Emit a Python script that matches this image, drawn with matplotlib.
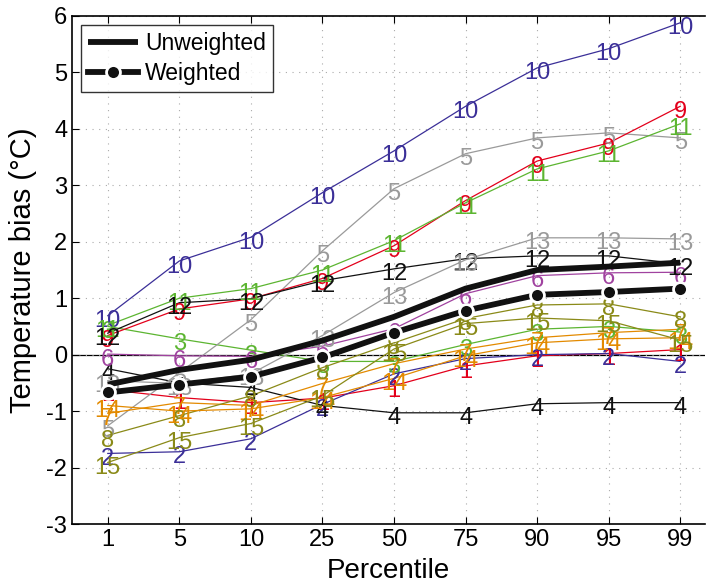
import numpy as np
import matplotlib
matplotlib.use('Agg')
import matplotlib.pyplot as plt

plt.rcParams['font.family'] = ['Liberation Sans', 'DejaVu Sans']
plt.rcParams['axes.unicode_minus'] = False

percentiles = ['1', '5', '10', '25', '50', '75', '90', '95', '99']

# model biases (labelled 1..15), one list per model
model_bias = {
    1:  [-0.62, -0.76, -0.85, -0.77, -0.55, -0.20, -0.02, 0.02, 0.09],
    2:  [-1.75, -1.72, -1.49, -0.88, -0.34, -0.07, 0.00, 0.02, -0.12],
    3:  [0.50, 0.28, 0.08, -0.12, -0.12, 0.18, 0.45, 0.50, 0.40],
    4:  [-0.25, -0.50, -0.58, -0.90, -1.03, -1.03, -0.87, -0.85, -0.85],
    5:  [-1.26, -0.32, 0.62, 1.84, 2.94, 3.56, 3.84, 3.93, 3.84],
    6:  [0.01, -0.02, -0.03, 0.15, 0.46, 1.08, 1.40, 1.45, 1.46],
    7:  [-1.04, -0.85, -0.90, -0.51, -0.16, 0.10, 0.30, 0.39, 0.45],
    8:  [-1.43, -1.08, -0.73, -0.23, 0.21, 0.64, 0.88, 0.90, 0.67],
    9:  [0.34, 0.81, 0.99, 1.35, 1.93, 2.73, 3.43, 3.75, 4.40],
    10: [0.69, 1.66, 2.08, 2.87, 3.61, 4.40, 5.08, 5.42, 5.88],
    11: [0.52, 1.00, 1.17, 1.50, 2.02, 2.69, 3.29, 3.61, 4.09],
    12: [0.38, 0.92, 0.99, 1.31, 1.52, 1.70, 1.75, 1.75, 1.61],
    13: [-0.46, -0.51, -0.34, 0.34, 1.10, 1.68, 2.07, 2.07, 2.05],
    14: [-0.90, -1.00, -0.96, -0.76, -0.42, -0.02, 0.21, 0.28, 0.30],
    15: [-1.91, -1.47, -1.22, -0.73, 0.10, 0.55, 0.65, 0.60, 0.26],
}
unweighted = [-0.53, -0.27, -0.09, 0.25, 0.67, 1.17, 1.50, 1.56, 1.63]
weighted = [-0.67, -0.53, -0.39, -0.05, 0.39, 0.78, 1.06, 1.11, 1.17]

red, blue, green, black = '#e3001b', '#3b2f98', '#5cb531', '#111111'
grey, purple, orange, olive = '#9a9a9a', '#a0429f', '#e38a00', '#8a8a18'
model_colors = {1: red, 2: blue, 3: green, 4: black, 5: grey, 6: purple,
                7: orange, 8: olive, 9: red, 10: blue, 11: green, 12: black,
                13: grey, 14: orange, 15: olive}

x = np.arange(1, len(percentiles) + 1)

fig = plt.figure(figsize=(7.06, 5.83), dpi=100)
ax = fig.add_axes([0.102, 0.1012, 0.897, 0.8714])

ax.grid(True, color='#aaaaaa', linestyle=(0, (1, 5)), linewidth=0.8)
ax.axhline(0, color='black', linewidth=0.9, zorder=1)

for k, vals in model_bias.items():
    c = model_colors[k]
    ax.plot(x, vals, color=c, linewidth=0.9, zorder=2)
    for xi, v in zip(x, vals):
        ax.annotate(str(k), (xi, v), xytext=(0, -4), textcoords='offset points',
                    ha='center', va='center', fontsize=17, color=c, zorder=3)

ax.plot(x, unweighted, color='#111111', linewidth=4.2, solid_capstyle='butt',
        zorder=5, label='Unweighted')
ax.plot(x, weighted, color='#111111', linewidth=4.2, marker='o', markersize=10,
        markerfacecolor='#111111', markeredgecolor='white', markeredgewidth=2,
        zorder=6, label='Weighted')

ax.set_xlim(0.5, 9.35)
ax.set_ylim(-3, 6)
ax.set_xticks(x)
ax.set_xticklabels(percentiles)
ax.set_yticks(range(-3, 7))
ax.tick_params(direction='in', labelsize=17, top=True, right=False, length=5)
for s in ax.spines.values():
    s.set_linewidth(1.2)
ax.spines['right'].set_visible(False)

ax.set_xlabel('Percentile', fontsize=20, labelpad=5)
ax.set_ylabel('Temperature bias (°C)', fontsize=21, labelpad=7)

leg = ax.legend(loc='upper left', fontsize=16.5, frameon=True, fancybox=False,
                edgecolor='black', handlelength=2.2, borderpad=0.3,
                labelspacing=0.3, handletextpad=0.3, borderaxespad=0.4)
leg.get_frame().set_linewidth(1.0)

fig.savefig('out.png', dpi=100)
